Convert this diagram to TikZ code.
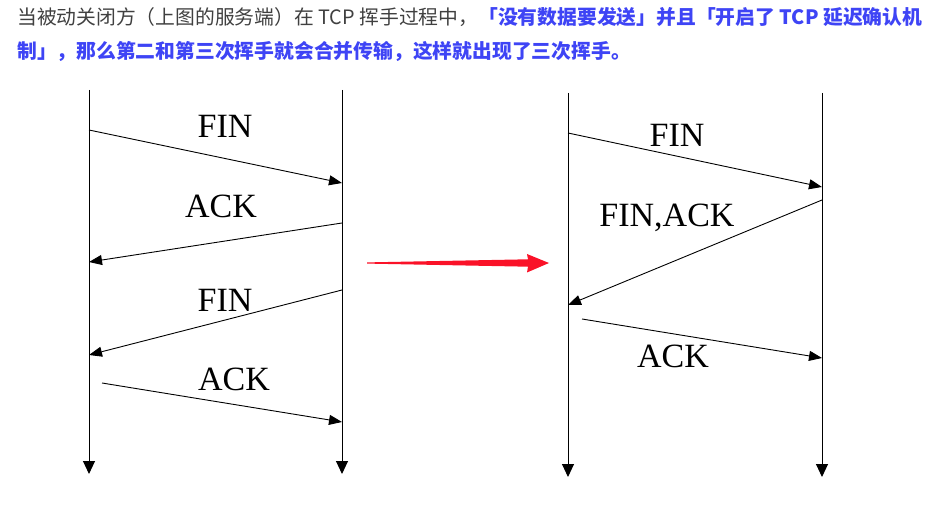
\documentclass[tikz,border=0pt]{standalone}
\usepackage{fontspec}
\setmainfont{Liberation Serif}
\newfontfamily\cjk{Noto Sans CJK SC}
\usetikzlibrary{arrows.meta,positioning}
\definecolor{noteGray}{RGB}{64,64,64}
\definecolor{noteBlue}{RGB}{62,68,245}
\definecolor{swapRed}{RGB}{250,18,40}
\tikzset{
  lifeLine/.style = {draw=black, line width=1pt, -{Triangle[length=13pt,width=12pt]}},
  msgArrow/.style = {draw=black, line width=0.9pt, -{Triangle[length=13pt,width=10pt]}},
  msgLabel/.style = {font=\fontsize{34}{36}\selectfont, inner sep=0pt, anchor=base},
  noteText/.style = {font=\cjk\fontsize{19.8}{22}\selectfont, inner sep=0pt, anchor=base west},
}
\begin{document}
\begin{tikzpicture}[x=1pt,y=-1pt]
  \useasboundingbox (0,0) rectangle (932,505);
  % note above the diagrams
  \node[noteText,text=noteGray](line1) at (17,25)
    {当被动关闭方（上图的服务端）在 TCP 挥手过程中，\textcolor{noteBlue}{\bfseries 「没有数据要发送」并且「开启了 TCP 延迟确认机}};
  \node[noteText,text=noteBlue,font=\cjk\bfseries\fontsize{19.8}{22}\selectfont](line2) at (17,59)
    {制」，那么第二和第三次挥手就会合并传输，这样就出现了三次挥手。};
  % four-way close
  \coordinate (aTop) at (89,90);   \coordinate (aBot) at (89,474);
  \coordinate (bTop) at (342,90);  \coordinate (bBot) at (342,474);
  \draw[lifeLine](aTop)--(aBot);
  \draw[lifeLine](bTop)--(bBot);
  \coordinate (f1s) at (89,130);  \coordinate (f1e) at (342,183);
  \coordinate (f2s) at (342,223); \coordinate (f2e) at (89,262);
  \coordinate (f3s) at (342,290); \coordinate (f3e) at (89,355);
  \coordinate (f4s) at (102,383); \coordinate (f4e) at (342,422);
  \foreach \x/\y in {f1s/f1e,f2s/f2e,f3s/f3e,f4s/f4e}{\draw[msgArrow](\x)--(\y);}
  \node[msgLabel](finA) at (225,138){FIN};
  \node[msgLabel](ackA) at (221,218){ACK};
  \node[msgLabel](finB) at (225,311){FIN};
  \node[msgLabel](ackB) at (234,390){ACK};
  % three-way close
  \coordinate (cTop) at (568,93);  \coordinate (cBot) at (568,477);
  \coordinate (dTop) at (822,93);  \coordinate (dBot) at (822,477);
  \draw[lifeLine](cTop)--(cBot);
  \draw[lifeLine](dTop)--(dBot);
  \coordinate (t1s) at (568,133); \coordinate (t1e) at (822,187);
  \coordinate (t2s) at (822,200); \coordinate (t2e) at (568,305);
  \coordinate (t3s) at (582,319); \coordinate (t3e) at (822,358);
  \foreach \x/\y in {t1s/t1e,t2s/t2e,t3s/t3e}{\draw[msgArrow](\x)--(\y);}
  \node[msgLabel](finC) at (677,147){FIN};
  \node[msgLabel](finackC) at (667,227){FIN,ACK};
  \node[msgLabel](ackC) at (673,367){ACK};
  % red arrow
  \fill[swapRed] (367,262.4)--(528,259.3)--(527,254)--(549,263)--(527,272.5)--(528,266.7)--(367,263.6)--cycle;
\end{tikzpicture}
\end{document}
